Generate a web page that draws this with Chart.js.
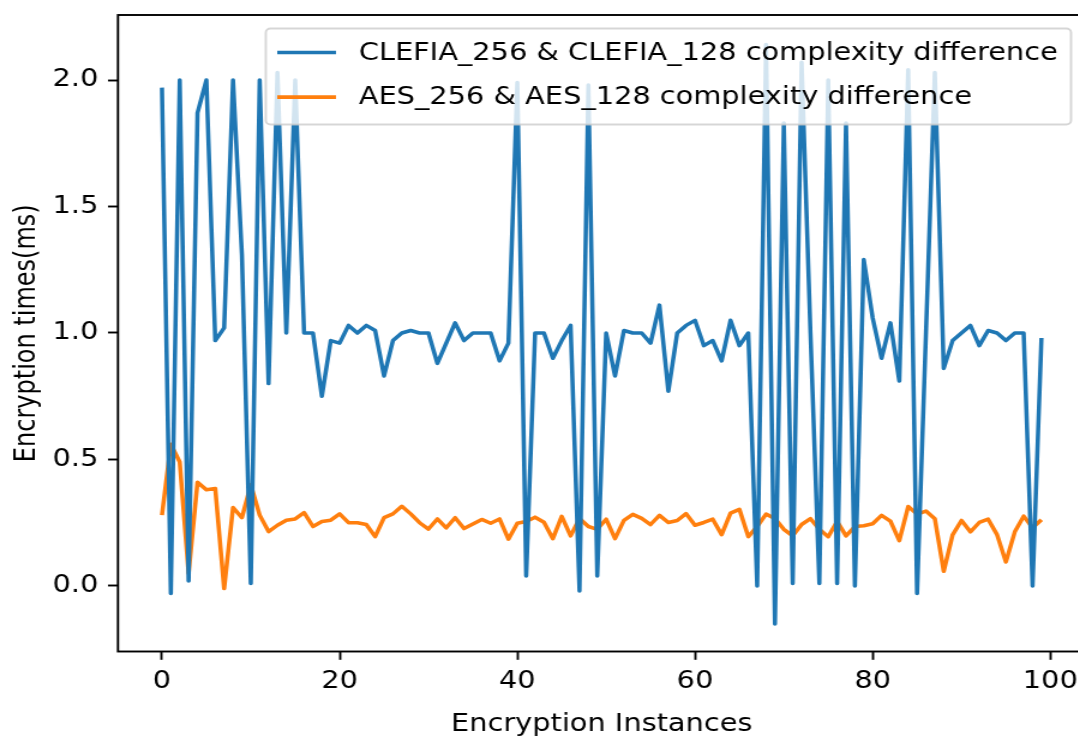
<!DOCTYPE html>
<html>
<head>
<meta charset="utf-8">
<title>Encryption complexity difference</title>
<script src="https://cdn.jsdelivr.net/npm/chart.js@4.4.0/dist/chart.umd.min.js"></script>
<style>
  html, body { margin: 0; padding: 0; background: #fff; overflow: hidden; }
  #marco { width: 1078px; height: 740px; overflow: hidden; position: relative; }
  /* la figura original está estirada en horizontal (~1.2x) y recortada a la derecha */
  #grafica { width: 906px; height: 740px; transform: scaleX(1.2); transform-origin: 0 0; }
</style>
</head>
<body>
<div id="marco">
  <canvas id="grafica" width="906" height="740" style="width:906px;height:740px;"></canvas>
</div>
<script>
// Datos
const instances = [
  0, 1, 2, 3, 4, 5, 6, 7, 8, 9, 10, 11, 12, 13, 14, 15, 16, 17, 18, 19,
  20, 21, 22, 23, 24, 25, 26, 27, 28, 29, 30, 31, 32, 33, 34, 35, 36, 37, 38, 39,
  40, 41, 42, 43, 44, 45, 46, 47, 48, 49, 50, 51, 52, 53, 54, 55, 56, 57, 58, 59,
  60, 61, 62, 63, 64, 65, 66, 67, 68, 69, 70, 71, 72, 73, 74, 75, 76, 77, 78, 79,
  80, 81, 82, 83, 84, 85, 86, 87, 88, 89, 90, 91, 92, 93, 94, 95, 96, 97, 98, 99
];

const clefiaDiff = [
  1.97, -0.03, 2.00, 0.02, 1.87, 2.00, 0.97, 1.02, 2.00, 1.31,
  0.01, 2.00, 0.80, 2.03, 1.00, 2.00, 1.00, 1.00, 0.75, 0.97,
  0.96, 1.03, 1.00, 1.03, 1.01, 0.83, 0.97, 1.00, 1.01, 1.00,
  1.00, 0.88, 0.96, 1.04, 0.97, 1.00, 1.00, 1.00, 0.89, 0.96,
  1.99, 0.04, 1.00, 1.00, 0.90, 0.97, 1.03, -0.02, 1.98, 0.04,
  1.00, 0.83, 1.01, 1.00, 1.00, 0.96, 1.11, 0.77, 1.00, 1.03,
  1.05, 0.95, 0.97, 0.89, 1.05, 0.95, 1.00, 0.00, 2.14, -0.15,
  1.83, 0.01, 2.07, 1.00, 0.01, 2.00, 0.01, 1.83, 0.00, 1.29,
  1.06, 0.90, 1.04, 0.81, 2.04, -0.03, 1.00, 2.03, 0.86, 0.97,
  1.00, 1.03, 0.95, 1.01, 1.00, 0.97, 1.00, 1.00, 0.00, 0.98
];

const aesDiff = [
  0.28, 0.56, 0.49, 0.05, 0.41, 0.38, 0.385, -0.01, 0.31, 0.27,
  0.40, 0.28, 0.215, 0.24, 0.26, 0.265, 0.29, 0.235, 0.255, 0.26,
  0.285, 0.25, 0.25, 0.243, 0.195, 0.27, 0.285, 0.315, 0.285, 0.25,
  0.225, 0.265, 0.23, 0.27, 0.227, 0.245, 0.263, 0.248, 0.265, 0.185,
  0.248, 0.255, 0.272, 0.252, 0.187, 0.275, 0.198, 0.267, 0.235, 0.224,
  0.264, 0.187, 0.259, 0.283, 0.267, 0.243, 0.279, 0.251, 0.259, 0.286,
  0.24, 0.251, 0.264, 0.203, 0.288, 0.303, 0.195, 0.235, 0.284, 0.267,
  0.224, 0.198, 0.243, 0.266, 0.224, 0.195, 0.256, 0.198, 0.235, 0.238,
  0.246, 0.279, 0.256, 0.179, 0.314, 0.284, 0.296, 0.266, 0.058, 0.202,
  0.259, 0.214, 0.251, 0.264, 0.203, 0.095, 0.214, 0.276, 0.23, 0.262
];

const seriesLabels = [
  'CLEFIA_256 & CLEFIA_128 complexity difference',
  'AES_256 & AES_128 complexity difference'
];

const xTicks = [0, 20, 40, 60, 80, 100];
const yTicks = [0, 0.5, 1.0, 1.5, 2.0];
const yTickLabels = ['0.0', '0.5', '1.0', '1.5', '2.0'];

const FONT = "'DejaVu Sans', sans-serif";
const FONT_SIZE = 24;

Chart.defaults.font.family = FONT;
Chart.defaults.font.size = FONT_SIZE;
Chart.defaults.color = '#000';

// Marco completo y leyenda dentro del área (como matplotlib)
const marcoYLeyenda = {
    id: 'marcoYLeyenda',
    afterDatasetsDraw(chart) {
        const { ctx, chartArea: a } = chart;
        ctx.save();

        ctx.strokeStyle = '#000';
        ctx.lineWidth = 1.9;
        ctx.strokeRect(a.left, a.top, a.right - a.left, a.bottom - a.top);

        ctx.font = `${FONT_SIZE}px ${FONT}`;
        const anchoTexto = Math.max(...chart.data.datasets.map(d => ctx.measureText(d.label).width));
        const ancho = 9.5 + 49 + 19 + anchoTexto + 11;
        const alto = 96;
        const right = a.right - 12;
        const top = a.top + 13.5;
        const left = right - ancho;
        const r = 4;

        ctx.beginPath();
        ctx.moveTo(left + r, top);
        ctx.lineTo(right - r, top);
        ctx.arcTo(right, top, right, top + r, r);
        ctx.lineTo(right, top + alto - r);
        ctx.arcTo(right, top + alto, right - r, top + alto, r);
        ctx.lineTo(left + r, top + alto);
        ctx.arcTo(left, top + alto, left, top + alto - r, r);
        ctx.lineTo(left, top + r);
        ctx.arcTo(left, top, left + r, top, r);
        ctx.closePath();
        ctx.fillStyle = 'rgba(255, 255, 255, 0.8)';
        ctx.fill();
        ctx.strokeStyle = 'rgba(204, 204, 204, 0.8)';
        ctx.lineWidth = 1.9;
        ctx.stroke();

        chart.data.datasets.forEach((d, i) => {
            const y = top + 24 + i * 44.6;
            ctx.beginPath();
            ctx.moveTo(left + 9.5, y);
            ctx.lineTo(left + 58.5, y);
            ctx.strokeStyle = d.borderColor;
            ctx.lineWidth = 3.55;
            ctx.stroke();
            ctx.fillStyle = '#000';
            ctx.textAlign = 'left';
            ctx.textBaseline = 'middle';
            ctx.fillText(d.label, left + 77.5, y + 1);
        });

        ctx.restore();
    }
};

new Chart(document.getElementById('grafica').getContext('2d'), {
    type: 'line',
    data: {
        datasets: [{
            label: seriesLabels[0],
            data: instances.map((x, i) => ({ x: x, y: clefiaDiff[i] })),
            borderColor: '#1f77b4',
            borderWidth: 3.55,
            borderJoinStyle: 'round',
            pointRadius: 0,
            tension: 0
        }, {
            label: seriesLabels[1],
            data: instances.map((x, i) => ({ x: x, y: aesDiff[i] })),
            borderColor: '#ff7f0e',
            borderWidth: 3.55,
            borderJoinStyle: 'round',
            pointRadius: 0,
            tension: 0
        }]
    },
    options: {
        responsive: false,
        devicePixelRatio: 1,
        animation: false,
        events: [],
        layout: { padding: { top: 15, right: 1.5, left: 0, bottom: 0 } },
        plugins: {
            legend: { display: false },
            tooltip: { enabled: false }
        },
        scales: {
            x: {
                type: 'linear',
                min: -4.95,
                max: 103.95,
                afterBuildTicks: s => { s.ticks = xTicks.map(v => ({ value: v })); },
                afterFit: s => { s.height = 88.5; s.paddingLeft = 0; s.paddingRight = 0; },
                border: { display: false },
                grid: { drawOnChartArea: false, drawTicks: true, tickLength: 8.3, tickWidth: 1.9, tickColor: '#000' },
                ticks: { color: '#000', padding: 8, autoSkip: false, maxRotation: 0, callback: v => String(v) },
                title: {
                    display: true,
                    text: 'Encryption Instances',
                    color: '#000',
                    padding: { top: 0, bottom: 1 }
                }
            },
            y: {
                min: -0.259,
                max: 2.257,
                afterBuildTicks: s => { s.ticks = yTicks.map(v => ({ value: v })); },
                afterFit: s => { s.width = 98.3; s.paddingTop = 0; s.paddingBottom = 0; },
                border: { display: false },
                grid: { drawOnChartArea: false, drawTicks: true, tickLength: 8.3, tickWidth: 1.9, tickColor: '#000' },
                ticks: { color: '#000', padding: 8, autoSkip: false, callback: (v, i) => yTickLabels[i] },
                title: {
                    display: true,
                    text: 'Encryption times(ms)',
                    color: '#000',
                    padding: { top: 8, bottom: 0 }
                }
            }
        }
    },
    plugins: [marcoYLeyenda]
});
</script>
</body>
</html>
